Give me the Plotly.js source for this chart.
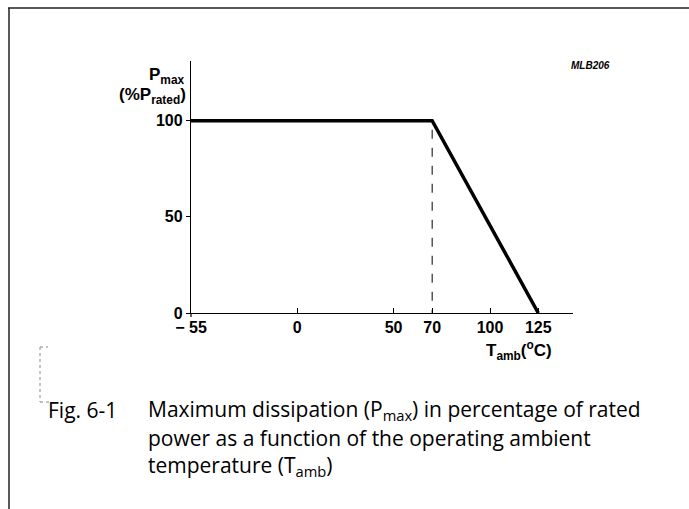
<!DOCTYPE html>
<html>
<head>
<meta charset="utf-8">
<script src="https://cdn.plot.ly/plotly-3.0.1.min.js"></script>
<style>html,body{margin:0;padding:0;background:#fff;}#chart{width:689px;height:509px;}</style>
</head>
<body>
<div id="chart"></div>
<script>
// Data
var tempPts = [-55, 70, 125];
var powerPts = [100, 100, 0];
var xTickVals = [-55, 0, 50, 70, 100, 125];
var xTickText = ['\u2212 55', '0', '50', '70', '100', '125'];
var yTickVals = [0, 50, 100];
var yTickText = ['0', '50', '100'];
var captionLines = [
  'Maximum dissipation (P<sub>max</sub>) in percentage of rated',
  'power as a function of the operating ambient',
  'temperature (T<sub>amb</sub>)'
];

var W = 689, H = 509;
var L = 191, R = 116, T = 61, B = 196;
var PW = W - L - R, PH = H - T - B;
function xp(px) { return (px - L) / PW; }
function yp(py) { return (H - B - py) / PH; }

var axFont = {family: '"Liberation Sans", Arial, sans-serif', size: 16, color: '#000', weight: 'bold'};
var titleFont = {family: '"Liberation Sans", Arial, sans-serif', size: 17, color: '#000', weight: 'bold'};
var capFont = {family: '"Open Sans", sans-serif', size: 21, color: '#000'};

var trace = {
  x: tempPts, y: powerPts, mode: 'lines', type: 'scatter',
  line: {color: '#000', width: 3.5}, hoverinfo: 'none', cliponaxis: false
};

var annotations = [
  {text: '<b>P<sub>max</sub></b>', x: xp(167), y: yp(76), xref: 'paper', yref: 'paper', showarrow: false, xanchor: 'center', yanchor: 'middle', font: titleFont},
  {text: '<b>(%P<sub>rated</sub>)</b>', x: xp(188), y: yp(96), xref: 'paper', yref: 'paper', showarrow: false, xanchor: 'right', yanchor: 'middle', font: titleFont},
  {text: '<b><i>MLB206</i></b>', x: xp(590), y: yp(65), xref: 'paper', yref: 'paper', showarrow: false, xanchor: 'center', yanchor: 'middle', font: {family: '"Liberation Sans", Arial, sans-serif', size: 10, color: '#000'}},
  {text: '<b>T<sub>amb</sub>(<sup>o</sup>C)</b>', x: xp(519), y: yp(350), xref: 'paper', yref: 'paper', showarrow: false, xanchor: 'center', yanchor: 'middle', font: titleFont},
  {text: 'Fig. 6-1', x: xp(46), y: yp(410), xref: 'paper', yref: 'paper', showarrow: false, xanchor: 'left', yanchor: 'middle', font: capFont}
];
captionLines.forEach(function (t, i) {
  annotations.push({text: t, x: xp(146), y: yp(410 + i * 28), xref: 'paper', yref: 'paper', showarrow: false, xanchor: 'left', yanchor: 'middle', font: capFont});
});

var dotted = {color: '#888', width: 1, dash: 'dot'};
var shapes = [
  {type: 'line', xref: 'x', yref: 'y', x0: tempPts[1], x1: tempPts[1], y0: -3, y1: powerPts[1], line: {color: '#000', width: 1, dash: 'dash'}, layer: 'below'},
  {type: 'line', xref: 'paper', yref: 'paper', x0: xp(8), x1: xp(689), y0: yp(8), y1: yp(8), line: {color: '#222', width: 1.5}},
  {type: 'line', xref: 'paper', yref: 'paper', x0: xp(9), x1: xp(9), y0: yp(8), y1: yp(509), line: {color: '#222', width: 1.5}},
  {type: 'line', xref: 'paper', yref: 'paper', x0: xp(40), x1: xp(40), y0: yp(347), y1: yp(402), line: dotted},
  {type: 'line', xref: 'paper', yref: 'paper', x0: xp(40), x1: xp(48), y0: yp(347), y1: yp(347), line: dotted},
  {type: 'line', xref: 'paper', yref: 'paper', x0: xp(40), x1: xp(49), y0: yp(402), y1: yp(402), line: dotted},
  {type: 'line', xref: 'paper', yref: 'paper', x0: 0, x1: 0, y0: 0, y1: yp(317), line: {color: '#000', width: 1.2}}
];

var layout = {
  width: W, height: H,
  margin: {l: L, r: R, t: T, b: B, pad: 0},
  paper_bgcolor: '#fff', plot_bgcolor: '#fff',
  showlegend: false,
  xaxis: {
    range: [-55, 143], showgrid: false, zeroline: false,
    showline: true, linecolor: '#000', linewidth: 1.2,
    ticks: 'inside', ticklen: 5, tickwidth: 1, tickcolor: '#000',
    tickvals: xTickVals, ticktext: xTickText, tickfont: axFont,
    fixedrange: true
  },
  yaxis: {
    range: [0, 131], showgrid: false, zeroline: false,
    showline: true, linecolor: '#000', linewidth: 1.2,
    ticks: 'outside', ticklen: 4, tickwidth: 1, tickcolor: '#000',
    tickvals: yTickVals, ticktext: yTickText, tickfont: axFont,
    fixedrange: true
  },
  annotations: annotations,
  shapes: shapes
};

Plotly.newPlot('chart', [trace], layout, {staticPlot: true, displayModeBar: false});
</script>
</body>
</html>
